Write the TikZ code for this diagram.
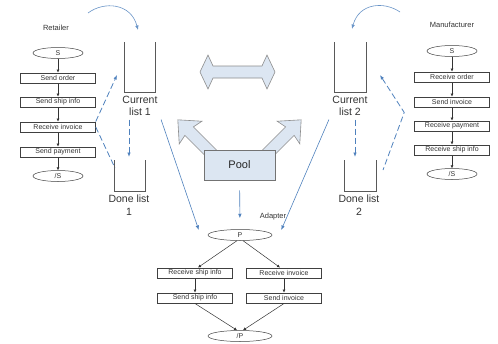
\documentclass[tikz,border=0pt]{standalone}
\usepackage{fontspec}
\setmainfont{Liberation Sans}
\usetikzlibrary{arrows.meta}
\usetikzlibrary{shapes.geometric}
\definecolor{flowblue}{RGB}{79,129,189}
\definecolor{paleblue}{RGB}{220,230,242}
\tikzset{
  actbox/.style={draw=black!75, line width=0.5pt, minimum width=75pt, minimum height=10.5pt, inner sep=0pt, font=\fontsize{7}{8}\selectfont, text=black!80},
  endell/.style={ellipse, draw=black!75, line width=0.5pt, minimum width=50pt, minimum height=11pt, inner sep=0pt, font=\fontsize{7}{8}\selectfont, text=black!80},
  seq/.style={-{Latex[length=3pt,width=3pt]}, black!80, line width=0.5pt},
  bluearr/.style={-{Latex[length=4.5pt,width=3.5pt]}, flowblue, line width=0.6pt},
  bluedash/.style={flowblue, dash pattern=on 6pt off 3pt, line width=0.8pt},
  listwall/.style={draw=black!65, line width=0.8pt},
  bigarrow/.style={fill=paleblue, draw=black!45, line width=0.6pt, line join=miter},
  biglabel/.style={font=\fontsize{10.5}{12.5}\selectfont, align=center, text=black!80},
  tag/.style={font=\fontsize{7.5}{9}\selectfont, text=black!80}
}

\begin{document}
\begin{tikzpicture}[x=1pt,y=-1pt]
\useasboundingbox (0,0) rectangle (498,343);
% retailer
\node[tag] (retailer) at (56,28) {Retailer};
\node[endell] (rs) at (58,53) {S};
\node[actbox] (rorder) at (58,78) {Send order};
\node[actbox] (rship) at (58,102) {Send ship info};
\node[actbox] (rinv) at (58,127) {Receive invoice};
\node[actbox] (rpay) at (58,152) {Send payment};
\node[endell] (rend) at (58,176) {/S};
\draw[seq] (rs) -- (rorder);
\draw[seq] (rorder) -- (rship);
\draw[seq] (rship) -- (rinv);
\draw[seq] (rinv) -- (rpay);
\draw[seq] (rpay) -- (rend);
% manufacturer
\node[tag] (manuf) at (452,25) {Manufacturer};
\node[endell] (ms) at (452,51) {S};
\node[actbox] (morder) at (452,77) {Receive order};
\node[actbox] (minv) at (452,102) {Send invoice};
\node[actbox] (mpay) at (452,126) {Receive payment};
\node[actbox] (mship) at (452,150) {Receive ship info};
\node[endell] (mend) at (452,174) {/S};
\draw[seq] (ms) -- (morder);
\draw[seq] (morder) -- (minv);
\draw[seq] (minv) -- (mpay);
\draw[seq] (mpay) -- (mship);
\draw[seq] (mship) -- (mend);
% lists
\draw[listwall] (124,42) -- (124,92) -- (155,92) -- (155,42);
\draw[listwall] (114,160) -- (114,191) -- (145,191) -- (145,160);
\draw[listwall] (334,42) -- (334,92) -- (366,92) -- (366,42);
\draw[listwall] (344,160) -- (344,191) -- (376,191) -- (376,160);
\node[biglabel] (cur1lbl) at (140,106) {Current\\list 1};
\node[biglabel] (done1lbl) at (129,205) {Done list\\1};
\node[biglabel] (cur2lbl) at (350,106) {Current\\list 2};
\node[biglabel] (done2lbl) at (359,205) {Done list\\2};
\coordinate (cur1top) at (138,30);
\coordinate (cur2top) at (352,29);
\coordinate (cur1in) at (117,75);
\coordinate (done1in) at (115,168);
\coordinate (cur2in) at (380,75);
\coordinate (done2in) at (383,170);
\coordinate (done1top) at (129,157);
\coordinate (done2top) at (355,157);
% big arrows and pool
\draw[bigarrow] (200,72) -- (208,55) -- (213,66) -- (262,66) -- (267,55) -- (275,72) -- (267,89) -- (262,78) -- (213,78) -- (208,89) -- cycle;
\draw[bigarrow, shift={(216,158)}, rotate=135] (0,-6) -- (38,-6) -- (36,-16) -- (54,0) -- (36,16) -- (38,6) -- (0,6) -- cycle;
\draw[bigarrow, shift={(263,158)}, rotate=45] (0,-6) -- (38,-6) -- (36,-16) -- (54,0) -- (36,16) -- (38,6) -- (0,6) -- cycle;
\node[draw=black!55, line width=0.6pt, fill=paleblue, minimum width=71pt, minimum height=30pt, font=\fontsize{11}{13}\selectfont, text=black!85] (pool) at (239.5,165) {Pool};
% adapter
\node[tag] (adapter) at (273,217) {Adapter};
\node[endell, minimum width=64pt] (P) at (240,235) {P};
\node[actbox] (arship) at (195,273) {Receive ship info};
\node[actbox] (arinv) at (284,273) {Receive invoice};
\node[actbox] (asship) at (195,298) {Send ship info};
\node[actbox] (asinv) at (284,298) {Send invoice};
\node[endell, minimum width=64pt] (pend) at (240,336) {/P};
\draw[seq] (P.-118) -- ([xshift=3pt]arship.north);
\draw[seq] (P.-62) -- ([xshift=-4pt]arinv.north);
\draw[seq] (arship) -- (asship);
\draw[seq] (arinv) -- (asinv);
\draw[seq] (asship.south) -- ([xshift=-3pt]pend.north);
\draw[seq] (asinv.south) -- ([xshift=3pt]pend.north);
% blue connectors
\draw[bluearr, flowblue!85] (88,13) .. controls (104,1) and (131,3) .. (cur1top);
\draw[bluearr, flowblue!85] (400,12) .. controls (384,1) and (359,3) .. (cur2top);
\draw[bluearr] (cur1lbl.south east) -- ([xshift=-9pt,yshift=5pt]P.west);
\draw[bluearr] (cur2lbl.south west) -- ([xshift=9pt,yshift=5pt]P.east);
\draw[bluearr, shorten <=10pt, shorten >=11pt] (pool) -- (P);
\draw[bluedash, -{Latex[length=4.5pt,width=3.5pt]}] (done1top |- cur1lbl.south) -- (done1top);
\draw[bluedash, -{Latex[length=4.5pt,width=3.5pt]}] (done2top |- cur2lbl.south) -- (done2top);
\draw[bluedash, -{Latex[length=4.5pt,width=3.5pt]}] (rinv.north east) -- (cur1in);
\draw[bluedash] (rinv.east) -- (done1in);
\coordinate (mvert) at ([xshift=-10pt,yshift=-5pt]minv.south west);
\draw[bluedash, {Latex[length=4.5pt,width=3.5pt]}-] (cur2in) -- (mvert) -- (done2in);
\end{tikzpicture}
\end{document}
